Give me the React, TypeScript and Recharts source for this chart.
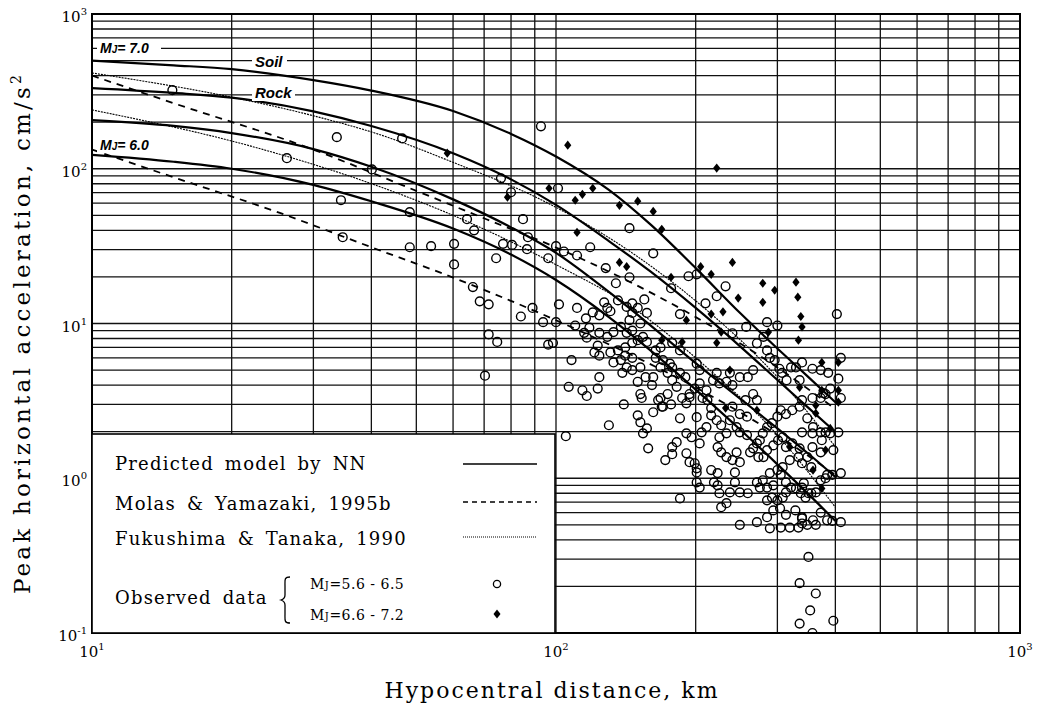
import React from "react";
import { ComposedChart, Line, Scatter, XAxis, YAxis, CartesianGrid } from "recharts";

// ---- axis ticks ----
const xTicks = [10, 20, 30, 40, 50, 60, 70, 80, 90, 100, 200, 300, 400, 500, 600, 700, 800, 900, 1000];
const yTicks = [
  0.1, 0.2, 0.3, 0.4, 0.5, 0.6, 0.7, 0.8, 0.9,
  1, 2, 3, 4, 5, 6, 7, 8, 9,
  10, 20, 30, 40, 50, 60, 70, 80, 90,
  100, 200, 300, 400, 500, 600, 700, 800, 900, 1000,
];

// ---- model curves [distance km, PGA cm/s2] ----
const nnM7Soil: [number, number][] = [
  [10, 499], [15, 466], [20, 440], [30, 374], [40, 320], [60, 236], [80, 168], [100, 120], [130, 73],
  [160, 43.5], [200, 22.8], [250, 11.6], [300, 6.9], [350, 4.5], [400, 3.1],
];
const nnM7Rock: [number, number][] = [
  [10, 332], [15, 309], [20, 288], [30, 235], [40, 189], [60, 126], [80, 85.4], [100, 58.4], [130, 34.1],
  [160, 21.6], [200, 12.6], [250, 7.07], [300, 4.32], [350, 2.85], [400, 1.99],
];
const nnM6Soil: [number, number][] = [
  [10, 206], [15, 189], [20, 170], [30, 134], [40, 103], [60, 63.4], [80, 41.8], [100, 28.6], [130, 16],
  [160, 9.7], [200, 5.55], [250, 3.25], [300, 2.1], [350, 1.44], [400, 1.02],
];
const nnM6Rock: [number, number][] = [
  [10, 123], [15, 111], [20, 100], [30, 78.7], [40, 61.6], [60, 41.1], [80, 27.9], [100, 19.1], [130, 11],
  [160, 6.68], [200, 3.74], [250, 2.05], [300, 1.23], [350, 0.79], [400, 0.53],
];
const molasM7: [number, number][] = [
  [10, 400], [15, 265], [29, 138], [50, 72], [71, 47], [100, 31], [135, 20.5], [200, 11], [300, 5.2], [400, 2.8],
];
const molasM6: [number, number][] = [
  [10, 133], [15, 88], [25.4, 51.8], [40, 31.1], [58, 20.6], [100, 10.5], [120, 8.2], [200, 3.86], [300, 1.9], [400, 1.05],
];
const fukuM7: [number, number][] = [
  [10, 416], [20, 290], [30, 220], [42, 165], [60, 110], [96, 60], [150, 27], [200, 14], [300, 4.5], [400, 1.6],
];
const fukuM6: [number, number][] = [
  [10, 240], [22, 140], [42, 76], [60, 50], [100, 24], [150, 12], [200, 6], [300, 1.9], [400, 0.65],
];

// ---- observed data ----
const obsSmall: [number, number][] = [
  [14.9, 322], [33.7, 160], [26.3, 117], [34.4, 62.6], [34.7, 36.1], [46.6, 157], [92.8, 188], [40.1, 99],
  [48.4, 52.4], [64.3, 47.2], [66.6, 40], [76.1, 86.8], [80, 70.5], [101, 74.8], [144, 41.3], [84.9, 47.2],
  [87, 36.1], [48.4, 31.1], [53.8, 31.6], [60.3, 32.7], [60.3, 24.1], [74.3, 26.4], [66.2, 17.2], [68.5, 13.9],
  [71.6, 13.3], [76.9, 32.7], [80.4, 32.2], [86.6, 30.2], [96.2, 26.4], [100, 31.6], [104, 29.2], [111, 27.5],
  [118.5, 31.1], [162, 28.4], [128, 22.8], [193, 20.2], [201, 20.8], [144, 19.9], [134.6, 18.2], [232, 17.4],
  [222, 15], [177, 16.9], [127, 13.7], [136, 14.1], [146, 13.5], [155, 14.3], [210, 13.5], [403, 11.5],
  [185, 11.5], [146, 11.7], [131, 12], [84, 11.1], [89, 12.6], [93.8, 10.2], [100, 10.2], [101.5, 13.3],
  [96.2, 7.3], [98.5, 7.5], [108, 5.8], [111, 12.6], [116.5, 8.1], [123, 7.2], [124, 4.5], [123, 3.8],
  [106.5, 3.9], [114, 3.7], [116.5, 3.4], [130, 2.2], [140, 3.0], [150, 2.55], [152, 2.3], [157, 2.1],
  [154, 1.95], [158, 1.56], [162, 2.67], [169, 2.9], [152, 3.5], [153, 3.3], [172, 1.31], [178, 1.43],
  [185, 2.44], [191, 1.95], [196, 1.84], [182, 1.71], [178, 1.59], [191, 1.45], [194, 1.27], [201, 1.09],
  [199, 1.25], [204, 1.68], [211, 2.14], [206, 1.98], [201, 2.48], [191, 3.05], [194, 3.34], [199, 3.8],
  [204, 4.1], [211, 3.7], [207, 3.3], [212, 3.2], [216, 2.84], [216, 2.55], [222, 2.37], [227, 2.2],
  [233, 1.95], [225, 1.84], [223, 1.59], [227, 1.47], [233, 1.37], [240, 1.31], [245, 1.47], [249, 1.27],
  [243, 1.09], [216, 1.13], [223, 1.08], [219, 0.94], [223, 0.9], [225, 0.8], [227, 0.65], [233, 0.69],
  [237, 0.81], [249, 0.81], [259, 0.8], [243, 0.94], [204, 0.87], [201, 0.94], [185, 0.74], [201, 1.16],
  [240, 8.65], [257, 9.5], [271, 7.45], [280, 8.2], [285, 6.7], [289, 6.0], [296, 5.8], [300, 9.7],
  [285, 10.2], [303, 5.1], [307, 4.8], [314, 4.3], [321, 5.2], [329, 5.2], [335, 4.3], [357, 5.1],
  [372, 5.0], [386, 4.8], [390, 3.8], [381, 3.5], [372, 3.3], [357, 3.3], [339, 3.2], [335, 2.9],
  [323, 2.75], [313, 2.6], [305, 2.75], [300, 2.5], [292, 2.27], [285, 2.14], [279, 1.95], [275, 1.76],
  [271, 1.68], [266, 1.56], [262, 1.47], [273, 1.37], [280, 1.37], [285, 1.52], [294, 1.63], [301, 1.76],
  [308, 1.84], [313, 1.59], [323, 1.68], [335, 1.56], [339, 1.98], [357, 1.95], [374, 1.76], [390, 1.95],
  [396, 1.52], [372, 1.47], [357, 1.59], [348, 1.37], [333, 1.37], [319, 1.31], [308, 1.18], [300, 1.13],
  [289, 1.08], [279, 0.97], [271, 0.94], [275, 0.87], [285, 0.87], [294, 0.9], [305, 1.05], [313, 0.94],
  [321, 0.87], [329, 0.86], [339, 0.87], [337, 0.8], [345, 0.75], [355, 0.8], [363, 0.81], [372, 0.97],
  [384, 1.05], [394, 1.05], [411, 1.08], [372, 0.6], [384, 0.535], [394, 0.53], [411, 0.52], [358, 0.535],
  [348, 0.5], [339, 0.51], [333, 0.48], [319, 0.48], [305, 0.48], [289, 0.475], [271, 0.52], [285, 0.56],
  [294, 0.62], [304, 0.64], [313, 0.58], [328, 0.62], [339, 0.55], [285, 0.72], [292, 0.75], [300, 0.72],
  [308, 0.75], [313, 0.81], [249, 0.5], [350, 0.31], [335, 0.21], [363, 0.18], [353, 0.14], [335, 0.115],
  [357, 0.1], [396, 0.12], [411, 6.0], [406, 4.4], [411, 3.3], [406, 1.98],
  [131, 6.5], [136, 6.7], [141, 7.0], [146, 7.5], [150, 7.8], [154, 8.2], [157, 7.6], [164, 6.7],
  [168, 7.0], [164, 6.0], [170, 5.8], [176, 5.5], [178, 5.2], [185, 4.8], [190, 4.5], [174, 4.8],
  [168, 5.2], [162, 4.5], [161, 4.0], [138, 5.8], [141, 6.2], [146, 6.0], [142, 5.2], [146, 5.0],
  [152, 5.2], [156, 4.5], [150, 4.2], [139, 4.8], [133, 5.6], [124, 6.2], [121, 6.5], [110, 9.7],
  [115, 8.7], [118, 9.4], [124, 8.7], [129, 8.2], [133, 8.8], [138, 9.5], [142, 8.7], [146, 9.0],
  [152, 10], [157, 11.7], [150, 12.6], [142, 12.8], [129, 12.6], [124, 11.3], [120, 11.8], [116, 10.8],
  [144, 10.5], [178, 7.5], [185, 6.7], [201, 5.5], [204, 5.0], [222, 4.8], [218, 4.3], [225, 4.1],
  [237, 4.8], [233, 4.2], [240, 4.0], [249, 4.5], [259, 4.5], [266, 5.0], [266, 3.5], [271, 3.2],
  [256, 3.2], [240, 2.9], [249, 2.6], [258, 2.5], [237, 2.37], [245, 2.14], [249, 1.98], [258, 1.9],
  [178, 4.3], [182, 3.9], [174, 3.5], [168, 3.3], [166, 3.2], [170, 2.9], [177, 3.0], [187, 3.3], [194, 3.5],
  [71.6, 8.5], [74.7, 7.6], [70.3, 4.6], [105, 1.87],
  [339, 5.6], [377, 3.55], [348, 2.44], [358, 2.14], [372, 1.98], [381, 1.98], [339, 1.25], [355, 1.18],
  [381, 1.0], [342, 0.93], [350, 0.8], [339, 0.56], [363, 0.5],
];
const obsLarge: [number, number][] = [
  [58.3, 126], [106, 142], [78.6, 65.5], [96.6, 74.8], [114, 68.4], [120, 74.8], [110, 62.6], [111, 38.8],
  [137, 58], [150, 61.7], [162, 53], [169, 40.6], [222, 101], [137, 24.8], [142, 23.3], [205, 23.3],
  [240, 24.8], [216, 20.8], [177, 19.9], [279, 18.2], [329, 18.5], [296, 16.4], [247, 14.6], [279, 13.7],
  [332, 14.8], [337, 11.1], [229, 11.9], [216, 11.5], [339, 9.5], [333, 7.8], [287, 8.8], [227, 8.8],
  [222, 7.5], [191, 10.5], [187, 7.6], [169, 7.8], [237, 5.0], [232, 2.84], [271, 2.75], [374, 5.6],
  [374, 3.7], [406, 3.7], [390, 2.1], [335, 3.87], [319, 1.59], [374, 0.86], [381, 1.52], [406, 5.6],
  [406, 3.1], [363, 2.96], [363, 2.63], [358, 1.13],
];

const toPts = (arr: [number, number][]) => arr.map(([d, a]) => ({ d, a }));

const SERIF = "'DejaVu Serif', 'Liberation Serif', serif";
const SANS = "'Liberation Sans', Arial, sans-serif";

const isDecade = (v: number) => Math.abs(Math.log10(v) - Math.round(Math.log10(v))) < 1e-6;

const XTick = (props: any) => {
  const { x, y, payload } = props;
  const v = payload.value;
  if (!isDecade(v)) return null;
  const e = Math.round(Math.log10(v));
  return (
    <text x={x} y={y + 24} textAnchor="middle" fontFamily={SERIF} fontSize={15} fill="#000">
      10<tspan fontSize={10} dy={-7}>{e}</tspan>
    </text>
  );
};

const YTick = (props: any) => {
  const { x, y, payload } = props;
  const v = payload.value;
  if (!isDecade(v)) return null;
  const e = Math.round(Math.log10(v));
  return (
    <text x={x - 5} y={y + 8} textAnchor="end" fontFamily={SERIF} fontSize={15} fill="#000">
      10<tspan fontSize={10} dy={-7}>{e}</tspan>
    </text>
  );
};

const OpenCircle = (props: any) => {
  const { cx, cy } = props;
  if (cx == null || cy == null) return null;
  return <circle cx={cx} cy={cy} r={4.4} fill="none" stroke="#000" strokeWidth={1.4} />;
};

const Diamond = (props: any) => {
  const { cx, cy } = props;
  if (cx == null || cy == null) return null;
  return <path d={`M${cx},${cy - 4.6}L${cx + 3.6},${cy}L${cx},${cy + 4.6}L${cx - 3.6},${cy}Z`} fill="#000" />;
};

const W = 1042;
const H = 715;
const PL = 92, PT = 14, PR = 1020, PB = 633;

const Mj = ({ x, y, text, size }: { x: number; y: number; text: string; size: number }) => (
  <text x={x} y={y} fontFamily={SERIF} fontSize={size} fill="#000" letterSpacing={0.5}>
    M<tspan fontSize={size * 0.72}>J</tspan>
    {text}
  </text>
);

const Annot = ({ x, y, w, children }: { x: number; y: number; w: number; children: any }) => (
  <g>
    <rect x={x - 3} y={y - 13} width={w + 6} height={16} fill="#fff" />
    {children}
  </g>
);

export default function App() {
  const lineCommon = {
    dataKey: "a",
    dot: false,
    activeDot: false,
    isAnimationActive: false,
    type: "monotone" as const,
    stroke: "#000",
  };
  return (
    <div style={{ position: "relative", width: W, height: H, margin: -8, background: "#fff" }}>
      <ComposedChart
        width={W}
        height={H}
        margin={{ top: PT, right: W - PR, bottom: H - PB - 40, left: PL - 60 }}
      >
        <CartesianGrid stroke="#111" strokeWidth={1.3} />
        <XAxis
          dataKey="d"
          type="number"
          scale="log"
          domain={[10, 1000]}
          ticks={xTicks}
          interval={0}
          allowDataOverflow
          tick={XTick}
          tickLine={false}
          axisLine={false}
          tickSize={0}
          tickMargin={0}
          height={40}
        />
        <YAxis
          dataKey="a"
          type="number"
          scale="log"
          domain={[0.1, 1000]}
          ticks={yTicks}
          interval={0}
          allowDataOverflow
          tick={YTick}
          tickLine={false}
          axisLine={false}
          tickSize={0}
          tickMargin={0}
          width={60}
        />
        <Line {...lineCommon} data={toPts(fukuM7)} strokeWidth={1.1} strokeDasharray="2 1" />
        <Line {...lineCommon} data={toPts(fukuM6)} strokeWidth={1.1} strokeDasharray="2 1" />
        <Line {...lineCommon} data={toPts(molasM7)} strokeWidth={1.8} strokeDasharray="7 6" />
        <Line {...lineCommon} data={toPts(molasM6)} strokeWidth={1.8} strokeDasharray="7 6" />
        <Line {...lineCommon} data={toPts(nnM7Soil)} strokeWidth={2.2} />
        <Line {...lineCommon} data={toPts(nnM7Rock)} strokeWidth={2.2} />
        <Line {...lineCommon} data={toPts(nnM6Soil)} strokeWidth={2.2} />
        <Line {...lineCommon} data={toPts(nnM6Rock)} strokeWidth={2.2} />
        <Scatter data={toPts(obsSmall)} shape={OpenCircle} isAnimationActive={false} />
        <Scatter data={toPts(obsLarge)} shape={Diamond} isAnimationActive={false} />
      </ComposedChart>

      <svg width={W} height={H} style={{ position: "absolute", left: 0, top: 0, pointerEvents: "none" }}>
        {/* plot frame */}
        <rect x={PL} y={PT} width={PR - PL} height={PB - PT} fill="none" stroke="#000" strokeWidth={2} />

        {/* curve labels */}
        <Annot x={100} y={53} w={58}>
          <text x={100} y={53} fontFamily={SANS} fontSize={14} fontWeight="bold" fontStyle="italic" fill="#000">
            M<tspan fontSize={10}>J</tspan>= 7.0
          </text>
        </Annot>
        <Annot x={255} y={67} w={29}>
          <text x={255} y={67} fontFamily={SANS} fontSize={15} fontWeight="bold" fontStyle="italic" fill="#000">Soil</text>
        </Annot>
        <Annot x={255} y={98} w={37}>
          <text x={255} y={98} fontFamily={SANS} fontSize={15} fontWeight="bold" fontStyle="italic" fill="#000">Rock</text>
        </Annot>
        <Annot x={100} y={150} w={54}>
          <text x={100} y={150} fontFamily={SANS} fontSize={14} fontWeight="bold" fontStyle="italic" fill="#000">
            M<tspan fontSize={10}>J</tspan>= 6.0
          </text>
        </Annot>

        {/* legend */}
        <rect x={PL} y={434} width={555 - PL} height={PB - 434} fill="#fff" stroke="#000" strokeWidth={1.6} />
        <text x={115} y={470} fontFamily={SERIF} fontSize={18} letterSpacing={1.2} wordSpacing={4} fill="#000">
          Predicted model by NN
        </text>
        <line x1={463} x2={537} y1={464} y2={464} stroke="#000" strokeWidth={1.4} />
        <text x={115} y={510} fontFamily={SERIF} fontSize={18} letterSpacing={1.2} wordSpacing={4} fill="#000">
          Molas &amp; Yamazaki, 1995b
        </text>
        <line x1={463} x2={537} y1={502} y2={502} stroke="#000" strokeWidth={1.4} strokeDasharray="5 4" />
        <text x={115} y={545} fontFamily={SERIF} fontSize={18} letterSpacing={1.2} wordSpacing={4} fill="#000">
          Fukushima &amp; Tanaka, 1990
        </text>
        <line x1={463} x2={537} y1={537} y2={537} stroke="#000" strokeWidth={1.2} strokeDasharray="1 1" />
        <text x={115} y={604} fontFamily={SERIF} fontSize={18} letterSpacing={1.2} wordSpacing={4} fill="#000">
          Observed data
        </text>
        <path
          d="M290,577 C284,577 285,580 285,586 L285,595 C285,598 284,599 281,600 C284,601 285,602 285,605 L285,614 C285,620 284,623 290,623"
          fill="none"
          stroke="#000"
          strokeWidth={1.3}
        />
        <Mj x={310} y={589} text="=5.6  -  6.5" size={14} />
        <Mj x={310} y={620} text="=6.6  -  7.2" size={14} />
        <circle cx={497} cy={584} r={3.6} fill="none" stroke="#000" strokeWidth={1.3} />
        <path d="M497,609.5L500.5,614L497,618.5L493.5,614Z" fill="#000" />

        {/* axis titles */}
        <text
          x={30}
          y={333}
          transform="rotate(-90 30 333)"
          textAnchor="middle"
          fontFamily={SERIF}
          fontSize={23}
          letterSpacing={3.2}
          fill="#000"
        >
          Peak horizontal acceleration, cm/s<tspan fontSize={14} dy={-9}>2</tspan>
        </text>
        <text x={552} y={698} textAnchor="middle" fontFamily={SERIF} fontSize={22} letterSpacing={2} fill="#000">
          Hypocentral distance, km
        </text>
      </svg>
    </div>
  );
}
